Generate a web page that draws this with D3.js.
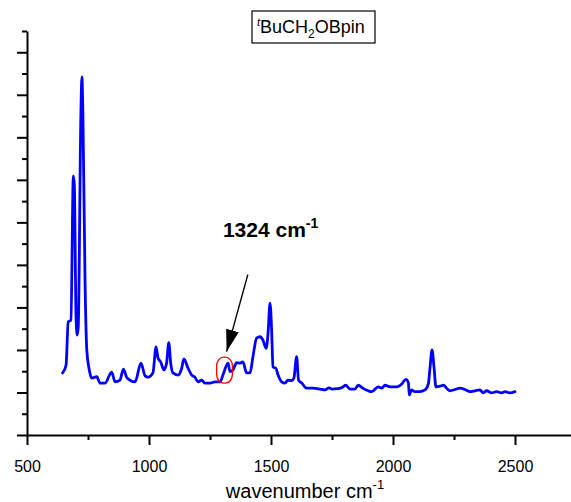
<!DOCTYPE html>
<html>
<head>
<meta charset="utf-8">
<script src="https://cdn.jsdelivr.net/npm/d3@7"></script>
<style>
  body { margin: 0; background: #fff; }
  svg { display: block; font-family: "Liberation Sans", Arial, sans-serif; }
</style>
</head>
<body>
<svg id="chart"></svg>
<script>
// wavenumber (cm-1) and intensity (arb. units)
const wavenumber = [646, 660, 669, 680, 690, 694, 701, 706, 710, 721, 725, 729, 738, 745, 754, 765, 786, 799, 820, 847,
  861, 881, 895, 910, 943, 967, 984, 996, 1016, 1029, 1037, 1048, 1061, 1072, 1081, 1089, 1098, 1119, 1134, 1143,
  1160, 1175, 1188, 1201, 1216, 1229, 1250, 1270, 1291, 1303, 1324, 1332, 1344, 1359, 1373, 1385, 1400, 1414, 1426, 1441,
  1455, 1467, 1480, 1488, 1496, 1503, 1508, 1520, 1529, 1544, 1557, 1570, 1585, 1594, 1605, 1613, 1626, 1646, 1672, 1701,
  1721, 1738, 1749, 1775, 1795, 1806, 1824, 1844, 1857, 1877, 1898, 1913, 1939, 1954, 1967, 1988, 2015, 2036, 2053, 2063,
  2067, 2076, 2090, 2110, 2131, 2145, 2152, 2160, 2168, 2176, 2193, 2207, 2220, 2234, 2254, 2275, 2295, 2316, 2336, 2356,
  2370, 2384, 2404, 2425, 2445, 2459, 2479, 2500];
const intensity = [1.46, 1.64, 2.66, 2.70, 6.09, 5.87, 2.77, 2.35, 2.54, 7.60, 8.42, 7.60, 3.57, 2.00, 1.57, 1.34, 1.37, 1.22, 1.22, 1.48,
  1.25, 1.29, 1.55, 1.34, 1.25, 1.69, 1.39, 1.36, 1.46, 2.07, 1.81, 1.72, 1.53, 1.69, 2.17, 1.69, 1.46, 1.41, 1.57, 1.79,
  1.57, 1.41, 1.36, 1.25, 1.29, 1.22, 1.22, 1.25, 1.25, 1.41, 1.69, 1.49, 1.53, 1.70, 1.69, 1.72, 1.46, 1.46, 1.84, 2.28,
  2.31, 2.23, 2.04, 2.40, 3.10, 2.40, 1.60, 1.57, 1.41, 1.25, 1.22, 1.29, 1.28, 1.34, 1.84, 1.29, 1.22, 1.10, 1.10, 1.08,
  1.06, 1.11, 1.08, 1.09, 1.13, 1.17, 1.08, 1.08, 1.17, 1.10, 1.04, 1.02, 1.13, 1.10, 1.17, 1.13, 1.13, 1.20, 1.31, 1.23,
  0.94, 1.06, 1.02, 1.02, 1.06, 1.21, 1.60, 2.00, 1.60, 1.13, 1.15, 1.17, 1.10, 1.04, 1.07, 1.10, 1.07, 1.02, 1.04, 1.06,
  0.99, 1.04, 0.99, 1.02, 0.99, 1.02, 0.99, 1.02];

const xMajor = [500, 1000, 1500, 2000, 2500];
const xMinor = [750, 1250, 1750, 2250, 2750];
const yMajor = [0, 1, 2, 3, 4, 5, 6, 7, 8, 9];
const yMinor = [0.5, 1.5, 2.5, 3.5, 4.5, 5.5, 6.5, 7.5, 8.5, 9.5];

// annotation: peak label, arrow (from -> to) and highlight box, in data units
const peakLabel = { wn: 1303, y: 4.65, text: '1324' };
const arrowFrom = [1405, 3.77];
const arrowTo = [1318, 1.96];
const highlight = { wn0: 1277, wn1: 1342, y0: 1.22, y1: 1.83 };

const width = 571, height = 502;
const svg = d3.select('#chart').attr('width', width).attr('height', height);

const x = d3.scaleLinear().domain([500, 2750]).range([27, 576]);
const y = d3.scaleLinear().domain([0, 9.5]).range([435, 31]);

// minor ticks first, then major axes over them
svg.append('g')
  .attr('transform', 'translate(0,435)')
  .call(d3.axisBottom(x).tickValues(xMinor).tickSize(5).tickFormat(''))
  .call(g => g.select('.domain').remove());
svg.append('g')
  .attr('transform', 'translate(27,0)')
  .call(d3.axisLeft(y).tickValues(yMinor).tickSize(5).tickFormat(''))
  .call(g => g.select('.domain').remove());

const xAxis = svg.append('g')
  .attr('transform', 'translate(0,435)')
  .call(d3.axisBottom(x).tickValues(xMajor).tickFormat(d3.format('d'))
    .tickSize(10).tickSizeOuter(0).tickPadding(16));
xAxis.selectAll('text').attr('font-size', 16).attr('fill', '#000').attr('font-family', '"Liberation Sans", Arial, sans-serif');

svg.append('g')
  .attr('transform', 'translate(27,0)')
  .call(d3.axisLeft(y).tickValues(yMajor).tickSize(10).tickSizeOuter(0).tickFormat(''));

svg.selectAll('.domain, .tick line').attr('stroke', '#000').attr('stroke-width', 2);

// axis title
const xt = svg.append('text')
  .attr('x', 305).attr('y', 498)
  .attr('text-anchor', 'middle')
  .attr('font-size', 20);
xt.append('tspan').text('wavenumber cm');
xt.append('tspan').attr('font-size', 13).attr('dy', -9).text('-1');

// spectrum
const pts = wavenumber.map((w, i) => [w, intensity[i]]);
svg.append('path')
  .datum(pts)
  .attr('fill', 'none')
  .attr('stroke', '#0000ff')
  .attr('stroke-width', 2.8)
  .attr('stroke-linejoin', 'round')
  .attr('stroke-linecap', 'round')
  .attr('d', d3.line().curve(d3.curveMonotoneX).x(d => x(d[0])).y(d => y(d[1])));

// highlight box around the 1324 peak
svg.append('rect')
  .attr('x', x(highlight.wn0)).attr('y', y(highlight.y1))
  .attr('width', x(highlight.wn1) - x(highlight.wn0))
  .attr('height', y(highlight.y0) - y(highlight.y1))
  .attr('rx', 7).attr('ry', 9)
  .attr('fill', 'none').attr('stroke', '#ff0000').attr('stroke-width', 1.3);

// arrow
svg.append('defs').append('marker')
  .attr('id', 'head')
  .attr('viewBox', '0 0 22 13')
  .attr('refX', 22).attr('refY', 6.5)
  .attr('markerWidth', 22).attr('markerHeight', 13)
  .attr('markerUnits', 'userSpaceOnUse')
  .attr('orient', 'auto')
  .append('path').attr('d', 'M0,0L22,6.5L0,13Z').attr('fill', '#000');
svg.append('line')
  .attr('x1', x(arrowFrom[0])).attr('y1', y(arrowFrom[1]))
  .attr('x2', x(arrowTo[0])).attr('y2', y(arrowTo[1]))
  .attr('stroke', '#000').attr('stroke-width', 1.4)
  .attr('marker-end', 'url(#head)');

// peak label
const pl = svg.append('text')
  .attr('x', x(peakLabel.wn)).attr('y', y(peakLabel.y))
  .attr('font-size', 21).attr('font-weight', 'bold');
pl.append('tspan').text(peakLabel.text + ' cm');
pl.append('tspan').attr('font-size', 14).attr('dy', -9).text('-1');

// compound label box
const box = svg.append('g');
box.append('rect')
  .attr('x', 252).attr('y', 11).attr('width', 123).attr('height', 32)
  .attr('fill', '#fff').attr('stroke', '#000').attr('stroke-width', 1.2);
const tl = box.append('text').attr('x', 257).attr('y', 33).attr('font-size', 18);
tl.append('tspan').attr('font-size', 11).attr('font-style', 'italic').attr('dy', -7).text('t');
tl.append('tspan').attr('dy', 7).text('BuCH');
tl.append('tspan').attr('font-size', 12).attr('dy', 5).text('2');
tl.append('tspan').attr('dy', -5).text('OBpin');
</script>
</body>
</html>
